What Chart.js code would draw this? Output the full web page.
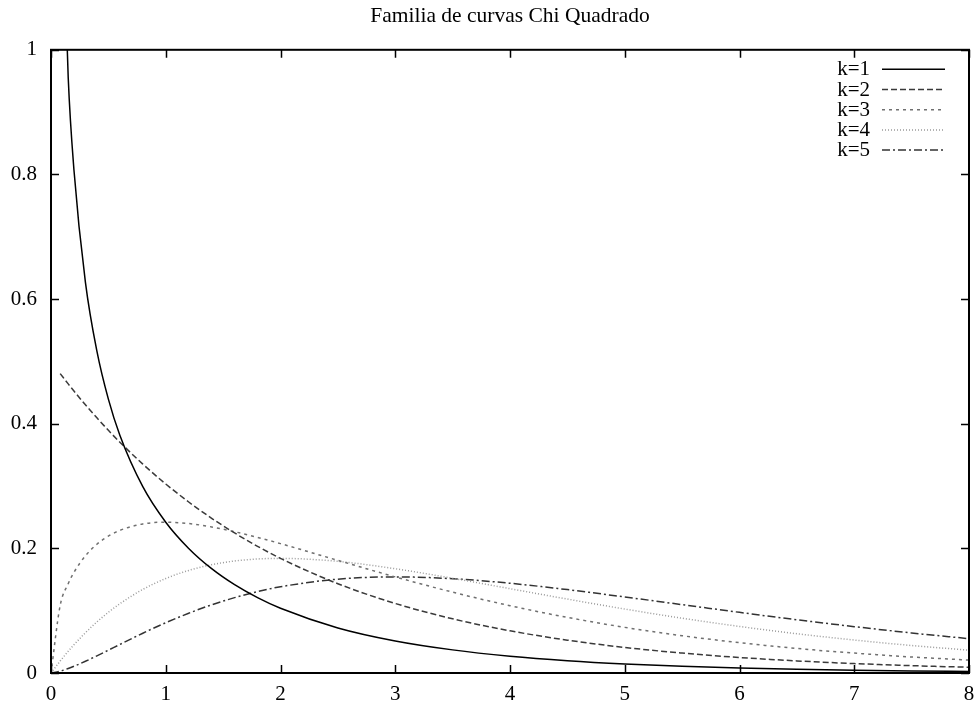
<!DOCTYPE html>
<html>
<head>
<meta charset="utf-8">
<script src="https://cdn.jsdelivr.net/npm/chart.js@4.4.1/dist/chart.umd.min.js"></script>
<style>
  html, body { margin: 0; padding: 0; background: #fff; }
  #wrap { width: 976px; height: 704px; }
</style>
</head>
<body>
<div id="wrap"><canvas id="chart" width="976" height="704"></canvas></div>
<script>
// sample positions shared by every curve
const xs = [0, 0.08, 0.15, 0.2, 0.3, 0.4, 0.5, 0.6, 0.8, 1, 1.2, 1.4, 1.6, 1.8, 2, 2.5, 3, 3.5, 4, 4.5, 5, 5.5, 6, 6.5, 7, 7.5, 8];

const k1 = [null, 1.355, 0.9556, 0.8072, 0.6269, 0.5164, 0.4394, 0.3815, 0.2990, 0.2420, 0.1999, 0.1674, 0.1417, 0.1209, 0.1038, 0.0723, 0.0514, 0.0371, 0.0270, 0.0198, 0.0146, 0.0109, 0.0081, 0.0061, 0.0046, 0.0034, 0.0026];
const k2 = [null, 0.4804, 0.4639, 0.4524, 0.4304, 0.4094, 0.3894, 0.3704, 0.3352, 0.3033, 0.2744, 0.2483, 0.2247, 0.2033, 0.1839, 0.1433, 0.1116, 0.0869, 0.0677, 0.0527, 0.0410, 0.0320, 0.0249, 0.0194, 0.0151, 0.0118, 0.0092];
const k3 = [0, 0.1084, 0.1433, 0.1614, 0.1881, 0.2066, 0.2197, 0.2289, 0.2392, 0.2420, 0.2398, 0.2344, 0.2267, 0.2176, 0.2076, 0.1807, 0.1542, 0.1297, 0.1080, 0.0892, 0.0732, 0.0598, 0.0487, 0.0394, 0.0319, 0.0257, 0.0207];
const k4 = [0, 0.0192, 0.0348, 0.0452, 0.0646, 0.0819, 0.0974, 0.1111, 0.1341, 0.1516, 0.1646, 0.1738, 0.1797, 0.1830, 0.1839, 0.1791, 0.1673, 0.1520, 0.1353, 0.1186, 0.1026, 0.0879, 0.0747, 0.0630, 0.0529, 0.0441, 0.0366];
const k5 = [0, 0.0029, 0.0072, 0.0108, 0.0188, 0.0275, 0.0366, 0.0458, 0.0638, 0.0807, 0.0959, 0.1094, 0.1209, 0.1306, 0.1384, 0.1506, 0.1542, 0.1513, 0.1440, 0.1338, 0.1220, 0.1097, 0.0973, 0.0854, 0.0744, 0.0642, 0.0551];

const labels = ['k=1', 'k=2', 'k=3', 'k=4', 'k=5'];
const xTicks = [0, 1, 2, 3, 4, 5, 6, 7, 8];
const yTicks = [0, 0.2, 0.4, 0.6, 0.8, 1];

const styles = [
  { color: '#000000', dash: [] },
  { color: '#3a3a3a', dash: [6, 3] },
  { color: '#707070', dash: [3, 4] },
  { color: '#9a9a9a', dash: [1, 2] },
  { color: '#333333', dash: [8, 3, 2, 3] }
];

const FONT = 'Liberation Serif, Times New Roman, serif';

function toPoints(ys) {
  return xs.map((x, i) => ({ x: x, y: ys[i] }));
}

const datasets = [k1, k2, k3, k4, k5].map((ys, i) => ({
  label: labels[i],
  data: toPoints(ys),
  borderColor: styles[i].color,
  borderDash: styles[i].dash,
  borderWidth: 1.5,
  pointRadius: 0,
  fill: false,
  cubicInterpolationMode: 'monotone',
  spanGaps: false
}));

// frame with inward ticks on all four sides, plus a gnuplot-like key
const framePlugin = {
  id: 'frame',
  afterDraw(chart) {
    const ctx = chart.ctx;
    const a = chart.chartArea;
    const sx = chart.scales.x, sy = chart.scales.y;
    const tl = 8;
    ctx.save();
    ctx.strokeStyle = '#000';
    ctx.lineWidth = 1.5;
    xTicks.forEach(v => {
      const px = Math.round(sx.getPixelForValue(v)) + 0.5;
      ctx.beginPath();
      ctx.moveTo(px, a.bottom); ctx.lineTo(px, a.bottom - tl);
      ctx.moveTo(px, a.top); ctx.lineTo(px, a.top + tl);
      ctx.stroke();
    });
    yTicks.forEach(v => {
      const py = Math.round(sy.getPixelForValue(v)) + 0.5;
      ctx.beginPath();
      ctx.moveTo(a.left, py); ctx.lineTo(a.left + tl, py);
      ctx.moveTo(a.right, py); ctx.lineTo(a.right - tl, py);
      ctx.stroke();
    });
    ctx.lineWidth = 2;
    ctx.strokeRect(a.left, a.top, a.right - a.left, a.bottom - a.top);

    // key
    ctx.font = '21px ' + FONT;
    ctx.textAlign = 'right';
    ctx.textBaseline = 'middle';
    chart.data.datasets.forEach((ds, i) => {
      const y = a.top + 19 + i * 20.2;
      ctx.fillStyle = '#000';
      ctx.fillText(ds.label, a.right - 99, y + 1);
      ctx.strokeStyle = ds.borderColor;
      ctx.lineWidth = 1.5;
      ctx.setLineDash(ds.borderDash);
      ctx.beginPath();
      ctx.moveTo(a.right - 87, y + 0.5);
      ctx.lineTo(a.right - 24, y + 0.5);
      ctx.stroke();
      ctx.setLineDash([]);
    });
    ctx.restore();
  }
};

new Chart(document.getElementById('chart'), {
  type: 'line',
  data: { datasets: datasets },
  options: {
    responsive: false,
    animation: false,
    events: [],
    layout: { padding: { left: 0, right: 7, top: 0, bottom: 0 } },
    plugins: {
      legend: { display: false },
      tooltip: { enabled: false },
      title: {
        display: true,
        fullSize: false,
        text: 'Familia de curvas Chi Quadrado',
        color: '#000',
        font: { family: FONT, size: 21.5, weight: 'normal' },
        padding: { top: 3, bottom: 21 }
      }
    },
    scales: {
      x: {
        type: 'linear',
        min: 0, max: 8,
        grid: { display: false, drawTicks: false },
        border: { display: false },
        ticks: {
          stepSize: 1,
          padding: 9,
          color: '#000',
          font: { family: FONT, size: 21 }
        },
        afterFit(scale) {
          scale.height = 31;
          scale.paddingLeft = 0;
          scale.paddingRight = 0;
        }
      },
      y: {
        type: 'linear',
        min: 0, max: 1,
        grid: { display: false, drawTicks: false },
        border: { display: false },
        ticks: {
          stepSize: 0.2,
          padding: 14,
          color: '#000',
          font: { family: FONT, size: 21 },
          callback: v => String(Math.round(v * 10) / 10)
        },
        afterFit(scale) {
          scale.width = 51;
          scale.paddingTop = 0;
          scale.paddingBottom = 0;
        }
      }
    }
  },
  plugins: [framePlugin]
});
</script>
</body>
</html>
